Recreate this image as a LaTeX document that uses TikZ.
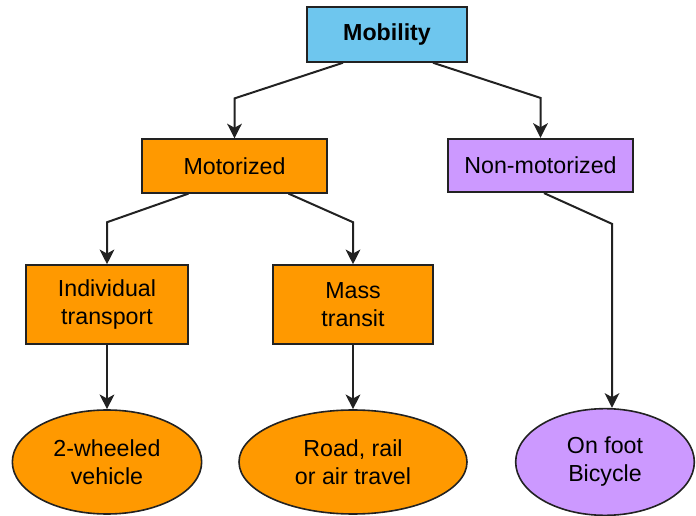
\documentclass[tikz,border=0pt]{standalone}
\usepackage{fontspec}
\setmainfont{Liberation Sans}
\usetikzlibrary{arrows.meta,calc,shapes.geometric}
\definecolor{skyfill}{HTML}{6EC6EE}
\definecolor{motorfill}{HTML}{FF9900}
\definecolor{nonmotorfill}{HTML}{CC99FF}
\definecolor{edgegray}{HTML}{222222}
\begin{document}
\begin{tikzpicture}[x=0.75pt,y=-0.75pt,
  every node/.style={font=\fontsize{17.4}{21}\selectfont, align=center, text=black},
  box/.style={draw=edgegray, line width=1.4pt, rectangle, inner sep=0pt},
  oval/.style={draw=edgegray, line width=1.2pt, ellipse, inner sep=0pt},
  link/.style={draw=edgegray, line width=1.5pt, -{Stealth[length=11pt,width=11pt,inset=3pt]}}]
  \useasboundingbox (0,0) rectangle (696,516);

  % top level
  \node[box, fill=skyfill, minimum width=120pt, minimum height=41pt, font=\fontsize{17.4}{21}\selectfont\bfseries] (mob) at (387,34.5) {Mobility};

  % second level
  \node[box, fill=motorfill, minimum width=139pt, minimum height=40pt] (mot) at (234.5,166) {Motorized};
  \node[box, fill=nonmotorfill, minimum width=139pt, minimum height=40pt] (non) at (540.5,165.5) {Non-motorized};

  % third level
  \node[box, fill=motorfill, minimum width=121pt, minimum height=59pt] (ind) at (107,304.5) {Individual\\transport};
  \node[box, fill=motorfill, minimum width=120pt, minimum height=59pt] (mass) at (353,304.5) {Mass\\transit};

  % leaves
  \node[oval, fill=motorfill, minimum width=142pt, minimum height=78pt] (two) at (107,462) {2-wheeled\\vehicle};
  \node[oval, fill=motorfill, minimum width=171pt, minimum height=78pt] (road) at (353,462) {Road, rail\\or air travel};
  \node[oval, fill=nonmotorfill, minimum width=134pt, minimum height=80pt] (foot) at (605,462) {On foot\\Bicycle};

  % connectors
  \draw[link] ($(mob.south)+(-44,0)$) -- ($(mot.north)+(0,-40)$) -- (mot.north);
  \draw[link] ($(mob.south)+(46,0)$) -- ($(non.north)+(0,-40)$) -- (non.north);
  \draw[link] ($(mot.south)+(-46,0)$) -- ($(ind.north)+(0,-42)$) -- (ind.north);
  \draw[link] ($(mot.south)+(54,0)$) -- ($(mass.north)+(0,-42)$) -- (mass.north);
  \draw[link] ($(non.south)+(3.5,0)$) -- ($(foot.north)+(7,-184)$) -- ($(foot.north)+(7,0)$);
  \draw[link] (ind.south) -- (two.north);
  \draw[link] (mass.south) -- (road.north);
\end{tikzpicture}
\end{document}
